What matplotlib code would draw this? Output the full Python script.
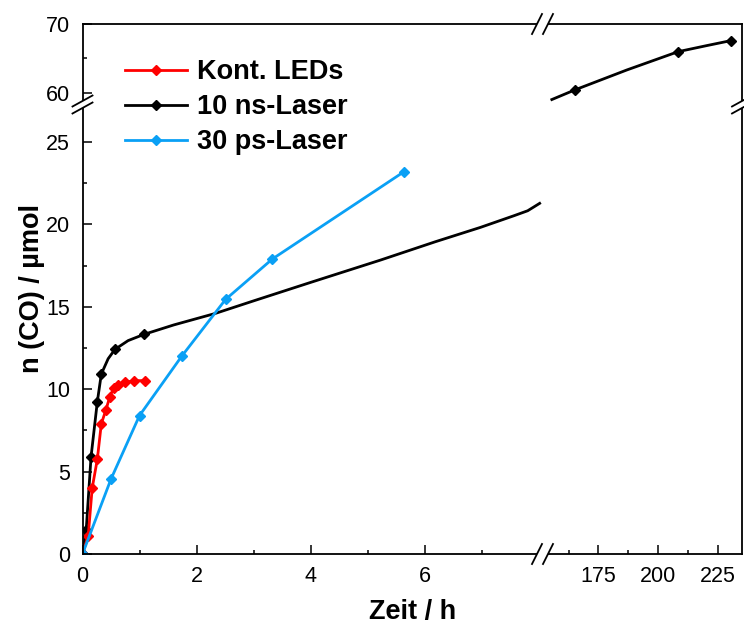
import numpy as np
import matplotlib
matplotlib.use('Agg')
import matplotlib.pyplot as plt
from matplotlib.lines import Line2D
from matplotlib.patches import Polygon

plt.rcParams['font.family'] = ['Liberation Sans', 'DejaVu Sans']

# data (Zeit in h, n(CO) in umol)
red_t = [0, 0.10, 0.17, 0.26, 0.33, 0.41, 0.48, 0.55, 0.63, 0.74, 0.91, 1.09]
red_n = [0, 1.1, 4.0, 5.75, 7.9, 8.74, 9.55, 10.1, 10.26, 10.41, 10.52, 10.52]

black_t = [0, 0.065, 0.15, 0.26, 0.33, 0.57, 1.08, 165.0, 208.3, 230.2]
black_n = [0, 1.46, 5.9, 9.24, 10.92, 12.42, 13.33, 60.43, 65.99, 67.58]

# fitted black curve (two visible pieces)
fit1_t = [0, 0.065, 0.15, 0.26, 0.33, 0.45, 0.57, 0.8, 1.08, 1.6, 2.33, 3.0,
          4.0, 5.23, 6.19, 6.98, 7.57, 7.81, 8.02]
fit1_n = [0, 1.46, 5.9, 9.24, 10.92, 11.85, 12.42, 12.95, 13.33, 13.9, 14.6,
          15.36, 16.48, 17.84, 18.95, 19.82, 20.53, 20.83, 21.28]
fit2_t = [155.5, 165.0, 186.8, 208.3, 220.0, 230.2]
fit2_n = [59.05, 60.43, 63.33, 65.99, 66.85, 67.58]

blue_t = [0, 0.5, 1.0, 1.74, 2.51, 3.33, 5.64]
blue_n = [0, 4.55, 8.4, 12.0, 15.45, 17.9, 23.2]

RED = '#FF0000'
BLUE = '#0AA0F5'
LW = 2.0
MS = 5.5

W, H = 744, 628
fig = plt.figure(figsize=(W / 100, H / 100), dpi=100)


def box(x0, y0, x1, y1):
    return [x0 / W, 1 - y1 / H, (x1 - x0) / W, (y1 - y0) / H]


xl, xb, xr = 82.5, 542.5, 742
yt, yb, ybot = 24, 103, 554

ax_bl = fig.add_axes(box(xl, yb, xb, ybot))
ax_br = fig.add_axes(box(xb, yb, xr, ybot))
ax_tl = fig.add_axes(box(xl, yt, xb, yb))
ax_tr = fig.add_axes(box(xb, yt, xr, yb))
axes = [ax_bl, ax_br, ax_tl, ax_tr]

for ax in axes:
    ax.patch.set_alpha(0)
    ax.plot(fit1_t, fit1_n, color='black', lw=LW)
    ax.plot(fit2_t, fit2_n, color='black', lw=LW)
    ax.plot(black_t, black_n, ls='none', marker='D', ms=MS, color='black')
    ax.plot(red_t, red_n, color=RED, lw=LW, marker='D', ms=MS)
    ax.plot(blue_t, blue_n, color=BLUE, lw=LW, marker='D', ms=MS)
    for s in ax.spines.values():
        s.set_linewidth(1.3)
        s.set_visible(False)
    ax.tick_params(which='both', direction='in', width=1.1, labelsize=15.5,
                   left=False, bottom=False, labelleft=False, labelbottom=False)
    ax.tick_params(which='major', length=6.5, pad=9)
    ax.tick_params(which='minor', length=3.2)

for ax in [ax_bl, ax_tl]:
    ax.set_xlim(0, 8.07)
for ax in [ax_br, ax_tr]:
    ax.set_xlim(151.6, 235)
for ax in [ax_bl, ax_br]:
    ax.set_ylim(0, 27.37)
for ax in [ax_tl, ax_tr]:
    ax.set_ylim(58.55, 70)

ax_bl.spines['left'].set_visible(True)
ax_bl.spines['bottom'].set_visible(True)
ax_br.spines['bottom'].set_visible(True)
ax_br.spines['right'].set_visible(True)
ax_tl.spines['left'].set_visible(True)
ax_tl.spines['top'].set_visible(True)
ax_tr.spines['top'].set_visible(True)
ax_tr.spines['right'].set_visible(True)

ax_bl.set_xticks([0, 2, 4, 6])
ax_bl.set_xticks([1, 3, 5, 7], minor=True)
ax_bl.set_yticks([0, 5, 10, 15, 20, 25])
ax_bl.set_yticks([2.5, 7.5, 12.5, 17.5, 22.5], minor=True)
ax_bl.tick_params(which='both', left=True, bottom=True, labelleft=True, labelbottom=True)

ax_br.set_xticks([175, 200, 225])
ax_br.set_xticks([162.5, 187.5, 212.5], minor=True)
ax_br.tick_params(which='both', bottom=True, labelbottom=True)

ax_tl.set_yticks([60, 70])
ax_tl.set_yticks([65], minor=True)
ax_tl.tick_params(which='both', left=True, labelleft=True)

# break marks
def brk(p, q):
    fig.add_artist(Line2D([p[0] / W, q[0] / W], [1 - p[1] / H, 1 - q[1] / H],
                          color='black', lw=1.3, transform=fig.transFigure))

def gap(pts):
    fig.add_artist(Polygon([(a / W, 1 - b / H) for a, b in pts], closed=True,
                           facecolor='white', edgecolor='none',
                           transform=fig.transFigure))

for yy in [yt, ybot]:
    gap([(xb - 10.5, yy + 10), (xb - 0.5, yy - 10), (xb + 10.5, yy - 10), (xb + 0.5, yy + 10)])
    brk((xb - 10.5, yy + 10), (xb - 0.5, yy - 10))
    brk((xb + 0.5, yy + 10), (xb + 10.5, yy - 10))
for xx in [xl, xr]:
    gap([(xx - 10, yb + 3.5), (xx + 10, yb - 7.5), (xx + 10, yb - 0.5), (xx - 10, yb + 10.5)])
    brk((xx - 10, yb + 3.5), (xx + 10, yb - 7.5))
    brk((xx - 10, yb + 10.5), (xx + 10, yb - 0.5))

fig.text((xl + xr) / 2 / W, 1 - 612 / H, 'Zeit / h', ha='center', va='center',
         fontsize=19.5, fontweight='bold')
fig.text(32 / W, 1 - (yt + ybot) / 2 / H, 'n (CO) / µmol', ha='center', va='center',
         rotation=90, fontsize=19.5, fontweight='bold')

handles = [Line2D([], [], color=RED, lw=LW, marker='D', ms=MS),
           Line2D([], [], color='black', lw=LW, marker='D', ms=MS),
           Line2D([], [], color=BLUE, lw=LW, marker='D', ms=MS)]
labels = ['Kont. LEDs', '10 ns-Laser', '30 ps-Laser']
leg = fig.legend(handles, labels, loc='upper left', bbox_to_anchor=(125 / W, 1 - 59 / H),
                 frameon=False, prop={'size': 19.5, 'weight': 'bold'},
                 handlelength=2.3, handletextpad=0.35, labelspacing=0.34,
                 borderpad=0, borderaxespad=0, numpoints=1)
leg.set_zorder(5)

fig.savefig('out.png', dpi=100)
